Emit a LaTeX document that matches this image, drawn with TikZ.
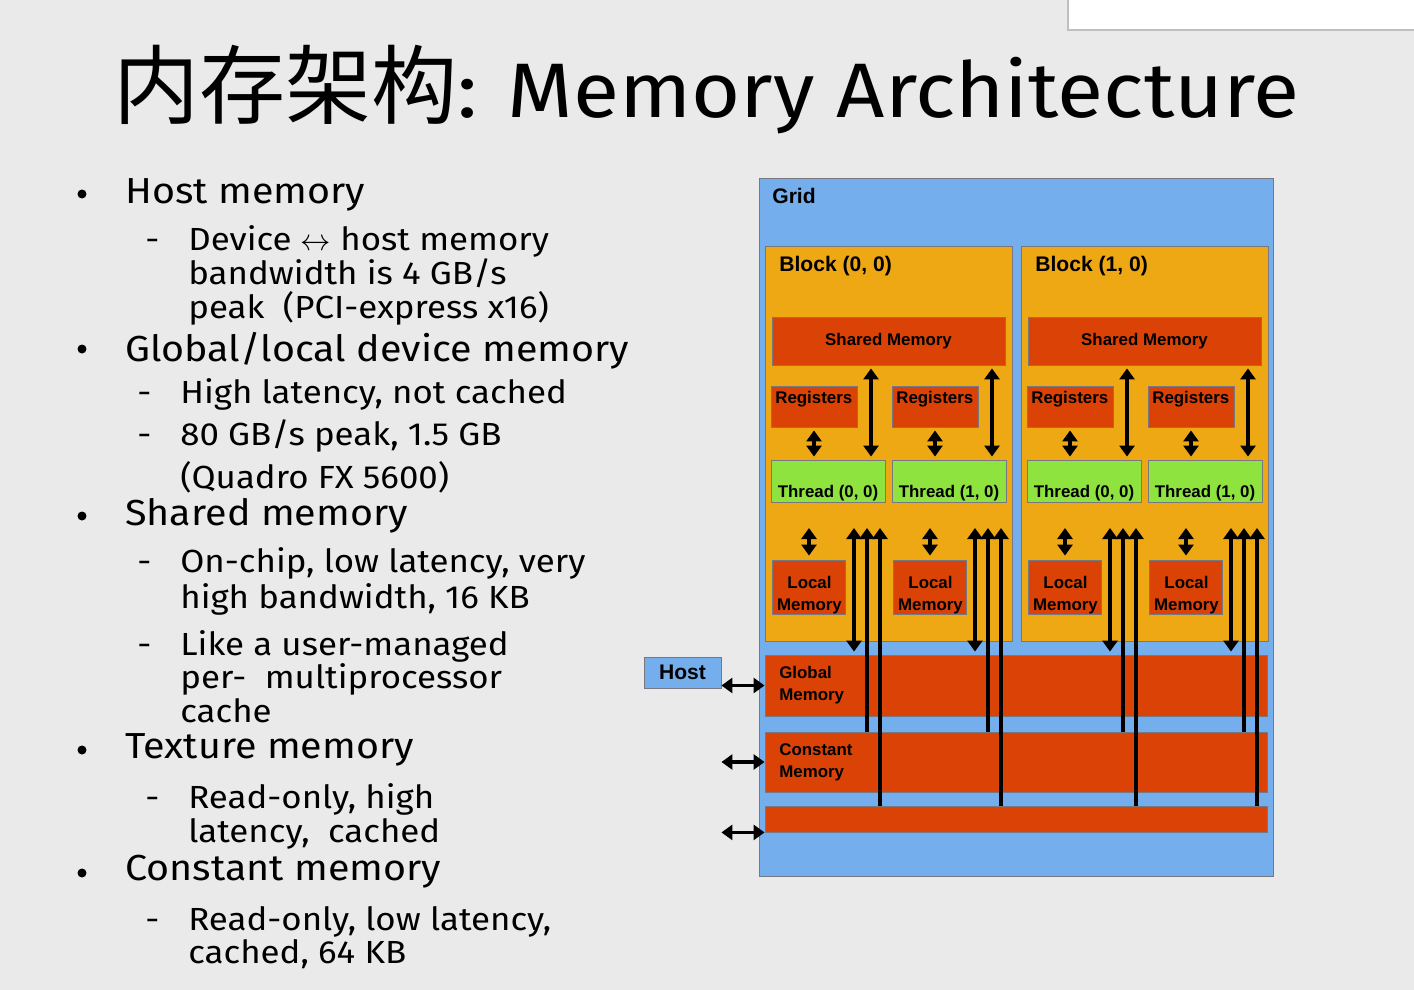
\documentclass[tikz,border=0pt]{standalone}
\usepackage{fontspec}
\setmainfont{Fira Sans}[FakeStretch=1.09]
\newfontfamily\cjkfont{Noto Sans CJK SC}
\newfontfamily\diafont{Liberation Sans}
\usetikzlibrary{arrows.meta, fit, calc, positioning}
\definecolor{slidebg}{RGB}{234,234,234}
\definecolor{gridblue}{RGB}{116,174,237}
\definecolor{blockorange}{RGB}{238,168,20}
\definecolor{memred}{RGB}{218,66,6}
\definecolor{threadgreen}{RGB}{143,227,62}
\definecolor{boxedge}{RGB}{120,120,130}
\tikzset{
  % boxes of the memory model
  box/.style={draw=boxedge, line width=0.5pt, inner sep=0pt},
  grid box/.style={box, fill=gridblue},
  block box/.style={box, fill=blockorange},
  mem box/.style={box, fill=memred},
  thread box/.style={box, fill=threadgreen},
  lbl/.style={font=\diafont\bfseries\fontsize{9.6}{12.5}\selectfont, inner sep=0pt},
  big lbl/.style={font=\diafont\bfseries\fontsize{12}{14}\selectfont, inner sep=0pt},
  % connectors
  link/.style={{Triangle[width=0.3cm,length=0.22cm]}-{Triangle[width=0.3cm,length=0.22cm]}, line width=1.9pt},
  uplink/.style={-{Triangle[width=0.3cm,length=0.22cm]}, line width=1.9pt},
  gap/.style={shorten <=0.06cm, shorten >=0.06cm},
  % slide text
  item/.style={anchor=base west, inner sep=0pt, font=\fontsize{20.6}{24}\selectfont},
  subitem/.style={anchor=base west, inner sep=0pt, font=\fontsize{18.2}{20}\selectfont},
  bulletdot/.style={circle, fill=black, inner sep=0pt, minimum size=0.18cm}
}
\begin{document}
\begin{tikzpicture}[x=0.02cm, y=-0.02cm]
  \useasboundingbox[fill=slidebg] (0,0) rectangle (1414,990);
  \fill[white] (1068,0) rectangle (1414,30);
  \draw[black!25, line width=1pt] (1068,0) -- (1068,30) -- (1414,30);

  % title
  \node[anchor=base west, inner sep=0pt] (title) at (113,118)
    {{\cjkfont\fontsize{49}{52}\selectfont 内存架构}{\fontsize{44}{48}\selectfont: Memory Architecture}};

  % bullet list
  \node[bulletdot] at (82,194) {};
  \node[item] (host mem) at (125,203) {Host memory};
  \node[subitem] at (145,250) {-};
  \node[subitem] at (188,250) {Device $\leftrightarrow$ host memory};
  \node[subitem] at (188,284) {bandwidth is 4 GB/s};
  \node[subitem] at (188,318) {peak\ \ (PCI-express x16)};
  \node[bulletdot] at (82,349) {};
  \node[item] (glob mem) at (125,361) {Global/local device memory};
  \node[subitem] at (137,403) {-};
  \node[subitem] at (180,403) {High latency, not cached};
  \node[subitem] at (137,445) {-};
  \node[subitem] at (180,445) {80 GB/s peak, 1.5 GB};
  \node[subitem] at (180,488) {(Quadro FX 5600)};
  \node[bulletdot] at (82,516) {};
  \node[item] (shared mem) at (125,525) {Shared memory};
  \node[subitem] at (137,572) {-};
  \node[subitem] at (180,572) {On-chip, low latency, very};
  \node[subitem] at (180,608) {high bandwidth, 16 KB};
  \node[subitem] at (137,655) {-};
  \node[subitem] at (180,655) {Like a user-managed};
  \node[subitem] at (180,688) {per-\ \ multiprocessor};
  \node[subitem] at (180,722) {cache};
  \node[bulletdot] at (82,750) {};
  \node[item] (tex mem) at (125,758) {Texture memory};
  \node[subitem] at (145,808) {-};
  \node[subitem] at (188,808) {Read-only, high};
  \node[subitem] at (188,842) {latency,\ \ cached};
  \node[bulletdot] at (82,873) {};
  \node[item] (const mem) at (125,880) {Constant memory};
  \node[subitem] at (145,930) {-};
  \node[subitem] at (188,930) {Read-only, low latency,};
  \node[subitem] at (188,963) {cached, 64 KB};

  % grid and device memories
  \node[grid box, fit={(759,178)(1273,876)}] (grid) {};
  \node[big lbl, anchor=base west] at (772,203) {Grid};
  \node[mem box, fit={(765,655)(1267,716)}] (glob) {};
  \node[lbl, anchor=north west, align=left] at (779,666) {Global\\Memory};
  \node[mem box, fit={(765,732)(1267,792)}] (const) {};
  \node[lbl, anchor=north west, align=left] at (779,743) {Constant\\Memory};
  \node[mem box, fit={(765,806)(1267,832)}] (tex) {};
  \node[grid box, fit={(644,657)(721,688)}] (host) {};
  \node[big lbl] at (host) {Host};
  \draw[link] (glob.west -| host.east) -- (glob.west);
  \draw[link] (const.west -| host.east) -- (const.west);
  \draw[link] (tex.south west -| host.east) -- (tex.south west);

  % blocks with their threads
  \foreach \b in {0,1}{
    \pgfmathsetmacro\bx{256*\b}
    \node[block box, fit={(765+\bx,246)(1012+\bx,641)}] (blk\b) {};
    \node[big lbl, anchor=base west] at (779+\bx,271) {Block (\b, 0)};
    \node[mem box, fit={(772+\bx,317)(1005+\bx,365)}] (sh\b) {};
    \node[lbl] at (sh\b) {Shared Memory};
    \foreach \t in {0,1}{
      \pgfmathsetmacro\ox{\bx+121*\t}
      \node[mem box, fit={(771+\ox,386)(857+\ox,427)}] (reg\b\t) {};
      \node[lbl, anchor=base west] at (775+\ox,403) {Registers};
      \node[thread box, fit={(771+\ox,460)(885+\ox,502)}] (thr\b\t) {};
      \node[lbl, anchor=base] at ($(thr\b\t.south)+(0,-5)$) {Thread (\t, 0)};
      \node[mem box, fit={(772+\ox,560)(845+\ox,614)}] (loc\b\t) {};
      \node[lbl, anchor=north, align=center] at ($(loc\b\t.north)+(1,16)$) {Local\\Memory};
      \coordinate (rs\b\t) at (871+\ox,0);
      \coordinate (tl\b\t) at (809+\ox,528);
      \coordinate (ga\b\t) at (854+\ox,528);
      \coordinate (ca\b\t) at (867+\ox,528);
      \coordinate (ta\b\t) at (880+\ox,528);
      \draw[link, gap] (reg\b\t.south) -- (reg\b\t.south |- thr\b\t.north);
      \draw[link, gap] (rs\b\t |- sh\b.south) -- (rs\b\t |- thr\b\t.north);
      \draw[link, shorten >=0.08cm] (tl\b\t) -- (tl\b\t |- loc\b\t.north);
      \draw[link, shorten >=0.06cm] (ga\b\t) -- (ga\b\t |- glob.north);
      \draw[uplink] (ca\b\t |- const.north) -- (ca\b\t);
      \draw[uplink] (ta\b\t |- tex.north) -- (ta\b\t);
    }
  }
\end{tikzpicture}
\end{document}
